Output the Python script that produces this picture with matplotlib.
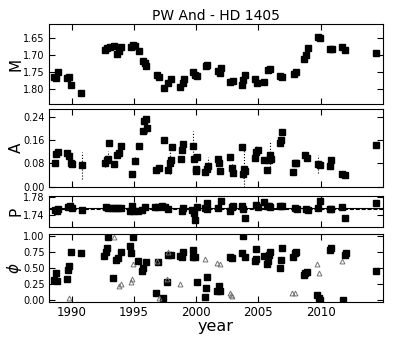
import numpy as np
import matplotlib
matplotlib.use("Agg")
import matplotlib.pyplot as plt

# M panel (magnitude, inverted axis)
m_year = [1988.58, 1988.72, 1988.93, 1989.60, 1989.81, 1989.95, 1990.75,
          1992.67, 1992.81, 1993.07, 1993.40, 1993.66, 1993.80, 1993.96,
          1994.73, 1994.95, 1995.08, 1995.40, 1995.75, 1995.88, 1995.96,
          1996.82, 1997.03, 1997.40, 1997.75, 1997.94, 1998.69, 1998.90, 1999.01,
          1999.71, 1999.89, 2000.08, 2000.75, 2000.90,
          2001.76, 2001.90, 2002.03, 2002.75, 2002.96, 2003.68, 2003.77, 2003.90,
          2004.70, 2004.89, 2005.43, 2005.78, 2005.96, 2006.77, 2006.90,
          2007.83, 2007.99, 2008.70, 2008.85, 2008.98, 2009.79, 2009.92,
          2010.72, 2010.90, 2011.74, 2011.93, 2014.48]
m_val = [1.766, 1.768, 1.752, 1.768, 1.765, 1.789, 1.813,
         1.687, 1.680, 1.677, 1.675, 1.697, 1.690, 1.677,
         1.678, 1.670, 1.675, 1.690, 1.718, 1.725, 1.732,
         1.760, 1.765, 1.798, 1.785, 1.772, 1.795, 1.785, 1.772,
         1.752, 1.760, 1.762, 1.733, 1.730,
         1.747, 1.754, 1.740, 1.780, 1.779, 1.790, 1.775, 1.759,
         1.772, 1.784, 1.782, 1.745, 1.742, 1.764, 1.767,
         1.757, 1.750, 1.712, 1.702, 1.679, 1.647, 1.652,
         1.682, 1.682, 1.677, 1.687, 1.695]

# A panel (amplitude)
a_year = [1988.66, 1988.74, 1988.93, 1989.65, 1989.81, 1989.92, 1990.03, 1990.80,
          1992.67, 1992.81, 1992.94, 1993.02, 1993.40, 1993.66, 1993.80, 1993.96,
          1994.81, 1995.08, 1995.43, 1995.70, 1995.83, 1995.96, 1996.02,
          1996.76, 1997.00, 1997.41, 1997.75, 1997.89, 1997.97, 1998.02,
          1998.74, 1998.82, 1998.96, 1999.71, 1999.81, 1999.97, 2000.08, 2000.00,
          2000.70, 2000.83, 2000.96,
          2001.76, 2001.84, 2001.95, 2002.70, 2002.84, 2002.97,
          2003.69, 2003.83, 2003.90, 2003.77,
          2004.70, 2004.84, 2004.97, 2005.43, 2005.70, 2005.83, 2005.92, 2006.05,
          2006.72, 2006.80, 2006.90, 2007.80, 2007.93, 2008.05, 2008.72, 2008.90,
          2009.79, 2009.92, 2010.72, 2010.86, 2011.74, 2011.98, 2014.46]
a_val = [0.080, 0.111, 0.117, 0.114, 0.105, 0.082, 0.076, 0.073,
         0.080, 0.091, 0.096, 0.150, 0.079, 0.110, 0.116, 0.139,
         0.043, 0.088, 0.139, 0.189, 0.223, 0.231, 0.201,
         0.056, 0.063, 0.161, 0.056, 0.082, 0.090, 0.135,
         0.094, 0.127, 0.147, 0.139, 0.096, 0.060, 0.103, 0.052,
         0.051, 0.060, 0.071,
         0.094, 0.082, 0.054, 0.103, 0.065, 0.048,
         0.136, 0.060, 0.054, 0.043,
         0.099, 0.118, 0.127, 0.091, 0.057, 0.091, 0.107, 0.096,
         0.150, 0.159, 0.186, 0.051, 0.080, 0.082, 0.110, 0.099,
         0.077, 0.073, 0.071, 0.091, 0.043, 0.041, 0.144]
a_err = [0.004, 0.006, 0.004, 0.005, 0.006, 0.008, 0.004, 0.045,
         0.012, 0.008, 0.025, 0.006, 0.004, 0.010, 0.008, 0.006,
         0.010, 0.012, 0.005, 0.006, 0.006, 0.008, 0.018,
         0.004, 0.005, 0.005, 0.010, 0.040, 0.010, 0.006,
         0.005, 0.006, 0.006, 0.050, 0.010, 0.012, 0.006, 0.004,
         0.005, 0.012, 0.030,
         0.006, 0.006, 0.005, 0.010, 0.012, 0.006,
         0.005, 0.080, 0.008, 0.012,
         0.006, 0.020, 0.006, 0.005, 0.005, 0.006, 0.050, 0.006,
         0.006, 0.006, 0.006, 0.008, 0.006, 0.006, 0.006, 0.005,
         0.030, 0.005, 0.005, 0.006, 0.012, 0.006, 0.004]

# P panel (period)
p_year = [1988.63, 1988.80, 1988.93, 1989.73, 1989.87, 1990.00, 1990.80,
          1992.75, 1992.94, 1993.20, 1993.48, 1993.74, 1993.93,
          1994.68, 1994.81, 1994.95, 1995.35, 1995.61, 1995.88,
          1996.68, 1996.95, 1997.22, 1997.49, 1997.75, 1998.82, 1998.96,
          1999.63, 1999.81, 1999.89, 2000.03, 2000.70, 2000.83, 2000.90,
          2001.76, 2001.98, 2002.70, 2002.84, 2002.97, 2003.64, 2003.77, 2003.90,
          2004.84, 2004.97, 2005.43, 2005.65, 2005.83, 2005.96, 2006.77, 2006.93,
          2007.93, 2008.07, 2008.85, 2008.98, 2009.79, 2009.92, 2010.72, 2010.86,
          2011.74, 2011.93, 2014.46]
p_val = [1.751, 1.749, 1.753, 1.756, 1.759, 1.754, 1.751,
         1.756, 1.754, 1.755, 1.754, 1.754, 1.754,
         1.747, 1.760, 1.747, 1.747, 1.751, 1.756,
         1.756, 1.758, 1.759, 1.758, 1.753, 1.749, 1.755,
         1.750, 1.744, 1.727, 1.756, 1.754, 1.766, 1.753,
         1.754, 1.771, 1.749, 1.756, 1.760, 1.759, 1.753, 1.732,
         1.761, 1.756, 1.769, 1.760, 1.759, 1.756, 1.760, 1.759,
         1.754, 1.753, 1.753, 1.751, 1.754, 1.770, 1.753, 1.753,
         1.756, 1.732, 1.767]
p_err = [0.004, 0.003, 0.003, 0.005, 0.006, 0.004, 0.003,
         0.003, 0.003, 0.002, 0.002, 0.002, 0.002,
         0.004, 0.006, 0.003, 0.003, 0.003, 0.003,
         0.003, 0.003, 0.003, 0.003, 0.003, 0.003, 0.003,
         0.003, 0.004, 0.003, 0.004, 0.003, 0.006, 0.004,
         0.003, 0.003, 0.004, 0.006, 0.005, 0.004, 0.005, 0.003,
         0.004, 0.004, 0.003, 0.003, 0.003, 0.003, 0.003, 0.003,
         0.003, 0.003, 0.003, 0.003, 0.004, 0.003, 0.003, 0.003,
         0.004, 0.003, 0.003]
p_mean = 1.7555
p_fit = 1.7525

# phi panel, squares and triangles
phi_year = [1988.61, 1988.71, 1988.85, 1989.60, 1989.73, 1989.81, 1989.92, 1990.75,
            1992.62, 1992.73, 1992.81, 1992.94, 1993.34, 1993.55, 1993.74, 1993.93,
            1994.68, 1994.76, 1994.92, 1995.35, 1995.62, 1995.75, 1995.96,
            1996.74, 1996.95, 1997.35, 1997.62, 1997.75, 1997.94,
            1998.69, 1998.82, 1998.96, 1999.71, 1999.76, 1999.90, 2000.03,
            2000.67, 2000.78, 2000.88, 2001.68, 2001.80, 2001.90,
            2002.70, 2002.89, 2003.69, 2003.77, 2003.90,
            2004.71, 2004.84, 2004.84, 2005.43, 2005.70, 2005.78, 2005.86, 2005.97,
            2006.72, 2006.80, 2006.90, 2007.78, 2007.91, 2007.99,
            2008.66, 2008.77, 2008.93, 2009.71, 2009.84, 2009.92,
            2010.72, 2010.85, 2011.80, 2011.93, 2012.00, 2014.46]
phi_val = [0.31, 0.42, 0.30, 0.34, 0.47, 0.54, 0.76, 0.74,
           0.69, 0.76, 0.81, 0.99, 0.35, 0.63, 0.66, 0.75,
           0.84, 0.74, 0.99, 0.62, 0.46, 0.50, 0.60,
           0.12, 0.60, 0.03, 0.29, 0.70, 0.70,
           0.69, 0.67, 0.75, 0.68, 0.78, 0.68, 0.28,
           0.05, 0.20, 0.36, 0.15, 0.22, 0.15,
           0.68, 0.66, 0.73, 1.00, 0.68,
           0.61, 0.65, 0.80, 0.69, 0.56, 0.61, 0.70, 0.76,
           0.51, 0.63, 0.81, 0.68, 0.73, 0.75,
           0.39, 0.43, 0.44, 0.08, 0.04, 0.01,
           0.78, 0.81, 0.01, 0.70, 0.73, 0.45]
tri_year = [1989.79, 1993.40, 1993.82, 1993.93, 1994.73, 1994.81, 1994.95,
            1996.82, 1997.03, 1997.67, 1997.70, 1998.69, 2000.70,
            2001.68, 2001.90, 2002.75, 2002.83, 2002.89,
            2007.72, 2007.91, 2009.73, 2009.84, 2011.71]
tri_val = [0.04, 0.98, 0.22, 0.26, 0.28, 0.33, 0.57,
           0.62, 0.03, 0.34, 0.75, 0.25, 0.65,
           0.58, 0.56, 0.12, 0.08, 0.06,
           0.12, 0.12, 0.57, 0.43, 0.61]

fig = plt.figure(figsize=(4.03, 3.37), dpi=100)
left, width = 0.121, 0.829
ax_m = fig.add_axes([left, 0.692, width, 0.236])
ax_a = fig.add_axes([left, 0.446, width, 0.230])
ax_p = fig.add_axes([left, 0.326, width, 0.093])
ax_f = fig.add_axes([left, 0.104, width, 0.201])

ms = 3.8
ax_m.plot(m_year, m_val, 's', color='k', ms=ms)
ax_m.set_ylim(1.845, 1.61)
ax_m.set_yticks([1.65, 1.70, 1.75, 1.80])
ax_m.set_title('PW And - HD 1405', fontsize=10, pad=3)

eb = ax_a.errorbar(a_year, a_val, yerr=a_err, fmt='s', color='k', ms=ms,
                   elinewidth=0.8, capsize=0)
eb[2][0].set_linestyle(':')
ax_a.set_ylim(0.0, 0.265)
ax_a.set_yticks([0.00, 0.08, 0.16, 0.24])

ax_p.errorbar(p_year, p_val, yerr=p_err, fmt='s', color='k', ms=ms,
              elinewidth=0.8, capsize=0)
ax_p.axhline(p_mean, color='k', lw=0.8)
ax_p.axhline(p_fit, color='k', lw=0.8, ls='--')
ax_p.set_ylim(1.712, 1.782)
ax_p.set_yticks([1.74, 1.78])

ax_f.plot(phi_year, phi_val, 's', color='k', ms=ms)
ax_f.plot(tri_year, tri_val, '^', mfc='none', mec='0.45', ms=3.5, mew=0.7)
ax_f.set_ylim(-0.025, 1.03)
ax_f.set_yticks([0.00, 0.25, 0.50, 0.75, 1.00])
ax_f.set_xlabel('year', fontsize=11.5, labelpad=0)

labels = ['M', 'A', 'P', r'$\phi$']
for ax, lab in zip([ax_m, ax_a, ax_p, ax_f], labels):
    ax.set_xlim(1988.15, 2015.0)
    ax.set_xticks([1990, 1995, 2000, 2005, 2010])
    ax.tick_params(direction='in', top=True, right=True, length=4,
                   labelsize=7, pad=3)
    ax.set_ylabel(lab, fontsize=11)
    ax.yaxis.set_label_coords(-0.075, 0.5)
    if ax is not ax_f:
        ax.set_xticklabels([])
ax_f.tick_params(axis='x', labelsize=8.5)

fig.savefig('out.png', dpi=100)
